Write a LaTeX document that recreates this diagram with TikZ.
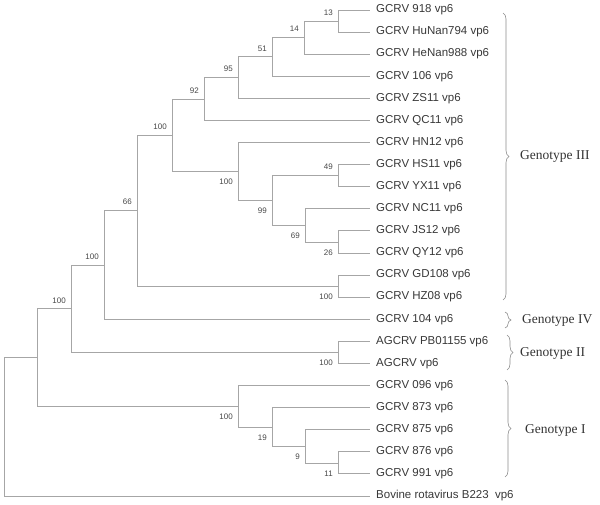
\documentclass[tikz,border=0pt]{standalone}
\usepackage{fontspec}
\setmainfont{Liberation Serif}
\setsansfont{Liberation Sans}
\usepackage{tikz}
\usetikzlibrary{positioning,decorations.pathreplacing}

\begin{document}
\begin{tikzpicture}[x=1pt,y=-1pt,
		branch/.style={draw=black!35,line width=0.8pt},
		taxon/.style={anchor=west,inner xsep=6pt,inner ysep=0pt,text=black!78,font=\sffamily\fontsize{11.5}{13}\selectfont},
		bsup/.style={anchor=south east,inner sep=1pt,xshift=-4pt,yshift=4.5pt,text=black!72,font=\sffamily\fontsize{8}{9}\selectfont},
		bsdown/.style={anchor=north east,inner sep=1pt,xshift=-4pt,yshift=-6.5pt,text=black!72,font=\sffamily\fontsize{8}{9}\selectfont},
		clade/.style={draw=black!45,line width=0.6pt,decorate,decoration={brace,amplitude=6pt}},
		geno/.style={anchor=west,inner sep=0pt,text=black!80,font=\rmfamily\fontsize{13.5}{15}\selectfont}]
			
			\useasboundingbox (0,0) rectangle (600,505);
			
			\foreach \lab [count=\i] in {GCRV 918 vp6,GCRV HuNan794 vp6,GCRV HeNan988 vp6,GCRV 106 vp6,GCRV ZS11 vp6,GCRV QC11 vp6,GCRV HN12 vp6,GCRV HS11 vp6,GCRV YX11 vp6,GCRV NC11 vp6,GCRV JS12 vp6,GCRV QY12 vp6,GCRV GD108 vp6,GCRV HZ08 vp6,GCRV 104 vp6,AGCRV PB01155 vp6,AGCRV vp6,GCRV 096 vp6,GCRV 873 vp6,GCRV 875 vp6,GCRV 876 vp6,GCRV 991 vp6,Bovine rotavirus B223\ \ vp6}
				\node[taxon] (t\i) at (370,{10+22.09*(\i-1)}) {\lab};
			
			\coordinate (c13) at (338,21);
			\coordinate (c14) at (304,37.6);
			\coordinate (c51) at (272,56.9);
			\coordinate (c95) at (238,77.5);
			\coordinate (c92) at (204,99);
			\coordinate (ce) at (172,135.3);
			\coordinate (chn) at (238,171.6);
			\coordinate (c49) at (338,175.7);
			\coordinate (c99) at (272,200.6);
			\coordinate (c69) at (305,225.5);
			\coordinate (c26) at (338,242);
			\coordinate (cd) at (137,210.7);
			\coordinate (ch) at (338,286);
			\coordinate (cc) at (104,265);
			\coordinate (cag) at (338,352.5);
			\coordinate (cb) at (71,308.8);
			\coordinate (cgI) at (238,406.4);
			\coordinate (c19) at (272,427.2);
			\coordinate (c9) at (305,446.5);
			\coordinate (c11) at (338,463);
			\coordinate (ca) at (37,357.6);
			\coordinate (root) at (4,426.8);
			
			\foreach \p/\c in {c13/t1,c13/t2,c14/c13,c14/t3,c51/c14,c51/t4,c95/c51,c95/t5,c92/c95,c92/t6,ce/c92,ce/chn,chn/t7,chn/c99,c99/c49,c99/c69,c49/t8,c49/t9,c69/t10,c69/c26,c26/t11,c26/t12,cd/ce,cd/ch,ch/t13,ch/t14,cc/cd,cc/t15,cb/cc,cb/cag,cag/t16,cag/t17,ca/cb,ca/cgI,cgI/t18,cgI/c19,c19/t19,c19/c9,c9/t20,c9/c11,c11/t21,c11/t22,root/ca,root/t23}
				\draw[branch] (\p) |- (\c);
			
			\node[bsup] (b13) at (c13) {13};
			\node[bsup] (b14) at (c14) {14};
			\node[bsup] (b51) at (c51) {51};
			\node[bsup] (b95) at (c95) {95};
			\node[bsup] (b92) at (c92) {92};
			\node[bsup] (be) at (ce) {100};
			\node[bsdown] (bhn) at (chn) {100};
			\node[bsup] (b49) at (c49) {49};
			\node[bsdown] (b99) at (c99) {99};
			\node[bsdown] (b69) at (c69) {69};
			\node[bsdown] (b26) at (c26) {26};
			\node[bsup] (bd) at (cd) {66};
			\node[bsdown] (bh) at (ch) {100};
			\node[bsup] (bc) at (cc) {100};
			\node[bsup] (bb) at (cb) {100};
			\node[bsdown] (bag) at (cag) {100};
			\node[bsdown] (bgI) at (cgI) {100};
			\node[bsdown] (b19) at (c19) {19};
			\node[bsdown] (b9) at (c9) {9};
			\node[bsdown] (b11) at (c11) {11};
			
			\draw[clade] (503,13) -- (503,300);
			\draw[clade] (505,312) -- (505,328);
			\draw[clade] (507,335) -- (507,370);
			\draw[clade] (505,380) -- (505,477);
			
			\node[geno] (gIII) at (520,156) {Genotype III};
			\node[geno] (gIV) at (522,320) {Genotype IV};
			\node[geno] (gII) at (520,353) {Genotype II};
			\node[geno] (gI) at (525,430) {Genotype I};
			
		\end{tikzpicture}
\end{document}
